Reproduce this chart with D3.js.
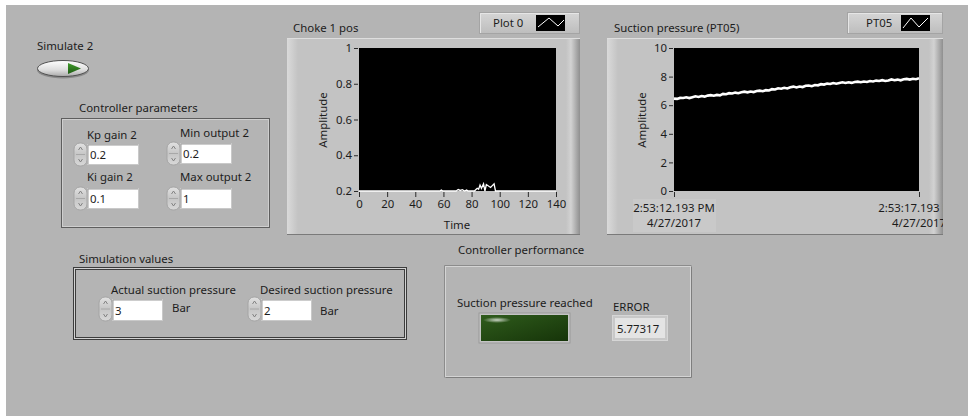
<!DOCTYPE html>
<html><head><meta charset="utf-8">
<script src="https://cdn.jsdelivr.net/npm/d3@7"></script>
<style>
body{margin:0;background:#fff}
svg{display:block}
text{font-family:"Noto Sans",sans-serif;font-size:11.4px;fill:#1c1c1c}
</style>
</head><body>
<svg id="c" width="971" height="417"></svg>
<script>
// ---------------- data ----------------
const chokeTime  = [0, 57.5, 58.5, 59.5, 69, 70.5, 72, 73.5, 75, 76.5, 77.5, 82, 84, 85, 86, 87, 88.5, 89.5, 90.5, 93.5, 96, 97, 140];
const chokeValue = [0.2, 0.2, 0.205, 0.2, 0.2, 0.208, 0.203, 0.207, 0.2, 0.205, 0.2, 0.2, 0.215, 0.21, 0.233, 0.215, 0.24, 0.2, 0.236, 0.22, 0.24, 0.2, 0.2];
const chokeXTicks = [0, 20, 40, 60, 80, 100, 120, 140];
const chokeYTicks = [0.2, 0.4, 0.6, 0.8, 1];

const pressureValue = [
  6.46, 6.44, 6.51, 6.50, 6.55, 6.50, 6.56, 6.62, 6.58, 6.64, 6.60, 6.67, 6.70, 6.66, 6.72, 6.69,
  6.79, 6.77, 6.84, 6.82, 6.88, 6.84, 6.90, 6.95, 6.90, 6.96, 6.92, 6.99, 7.02, 6.98, 7.05, 7.03,
  7.12, 7.10, 7.18, 7.15, 7.22, 7.17, 7.25, 7.30, 7.24, 7.31, 7.27, 7.36, 7.38, 7.33, 7.41, 7.39,
  7.47, 7.44, 7.51, 7.48, 7.55, 7.50, 7.55, 7.60, 7.55, 7.60, 7.56, 7.62, 7.65, 7.61, 7.66, 7.62,
  7.69, 7.66, 7.72, 7.69, 7.75, 7.69, 7.73, 7.80, 7.75, 7.79, 7.74, 7.81, 7.84, 7.79, 7.85, 7.82, 7.88
];
const pressureWindow = [0, 5];          // seconds shown
const pressureYTicks = [0, 2, 4, 6, 8, 10];
const pressureTickLabels = [["2:53:12.193 PM", "4/27/2017"], ["2:53:17.193 PM", "4/27/2017"]];

const controllerLabels = ["Kp gain 2", "Min output 2", "Ki gain 2", "Max output 2"];
const controllerValues = ["0.2", "0.2", "0.1", "1"];
const simulationLabels = ["Actual suction pressure", "Desired suction pressure"];
const simulationValues = ["3", "2"];
const errorValue = "5.77317";

// ---------------- drawing ----------------
const svg = d3.select("#c");
const defs = svg.append("defs");

function lg(id, stops, x2 = 0, y2 = 1) {
  const g = defs.append("linearGradient").attr("id", id)
    .attr("x1", 0).attr("y1", 0).attr("x2", x2).attr("y2", y2);
  stops.forEach(s => g.append("stop").attr("offset", s[0]).attr("stop-color", s[1]));
}
lg("leftBevel", [[0, "#dadada"], [1, "#c3c3c3"]], 1, 0);
lg("rightBevel", [[0, "#c3c3c3"], [0.35, "#d2d2d2"], [1, "#8f8f8f"]], 1, 0);
lg("legendG", [[0, "#d6d6d6"], [1, "#bdbdbd"]]);
lg("spinG", [[0, "#e2e2e2"], [0.5, "#c6c6c6"], [1, "#d8d8d8"]]);
lg("btnG", [[0, "#ffffff"], [0.6, "#dcdcdc"], [1, "#a9a9a9"]]);
lg("triG", [[0, "#3f9a2a"], [1, "#1f5c14"]]);
lg("ledG", [[0, "#2f5c1c"], [1, "#163409"]], 1, 1);
const rg = defs.append("radialGradient").attr("id", "ledHi").attr("cx", 0.5).attr("cy", 0.5).attr("r", 0.5);
rg.append("stop").attr("offset", 0).attr("stop-color", "#ffffff").attr("stop-opacity", 0.75);
rg.append("stop").attr("offset", 1).attr("stop-color", "#ffffff").attr("stop-opacity", 0);

// panel background
svg.append("rect").attr("width", 971).attr("height", 417).attr("fill", "#ffffff");
svg.append("rect").attr("x", 6).attr("y", 5).attr("width", 962).attr("height", 411).attr("fill", "#b4b4b4");

function label(x, y, t, anchor = "start") {
  return svg.append("text").attr("x", x).attr("y", y).attr("text-anchor", anchor).text(t);
}

// -------- Simulate button --------
label(37, 50, "Simulate 2");
svg.append("ellipse").attr("cx", 63).attr("cy", 70).attr("rx", 26).attr("ry", 8.5).attr("fill", "#8a8a8a");
svg.append("ellipse").attr("cx", 63).attr("cy", 68.5).attr("rx", 25.5).attr("ry", 8).attr("fill", "url(#btnG)").attr("stroke", "#505050").attr("stroke-width", 1);
svg.append("path").attr("d", "M68,63 L68,74 L81,68.5 Z").attr("fill", "url(#triG)");

// -------- helpers for controls --------
function spinner(x, y, h) {
  svg.append("rect").attr("x", x).attr("y", y).attr("width", 13).attr("height", h).attr("rx", 6)
    .attr("fill", "url(#spinG)").attr("stroke", "#a5a5a5");
  const cx = x + 6.5;
  svg.append("path").attr("d", `M${cx - 2},${y + 7} L${cx},${y + 4} L${cx + 2},${y + 7}`)
    .attr("fill", "none").attr("stroke", "#7a7a7a").attr("stroke-width", 0.9);
  svg.append("path").attr("d", `M${cx - 2},${y + h - 7} L${cx},${y + h - 4} L${cx + 2},${y + h - 7}`)
    .attr("fill", "none").attr("stroke", "#7a7a7a").attr("stroke-width", 0.9);
  svg.append("line").attr("x1", x + 2).attr("x2", x + 11).attr("y1", y + h / 2).attr("y2", y + h / 2).attr("stroke", "#a8a8a8");
}
function inputBox(x, y, w, h, v) {
  svg.append("rect").attr("x", x - 1).attr("y", y - 1).attr("width", w + 2).attr("height", h + 2).attr("fill", "#c9c9c9");
  svg.append("rect").attr("x", x).attr("y", y).attr("width", w).attr("height", h).attr("fill", "#ffffff");
  svg.append("path").attr("d", `M${x},${y + h} L${x},${y} L${x + w},${y}`).attr("fill", "none").attr("stroke", "#9c9c9c");
  svg.append("text").attr("x", x + 2).attr("y", y + h - 5).text(v);
}

// -------- Controller parameters --------
label(79, 112, "Controller parameters");
svg.append("rect").attr("x", 61.5).attr("y", 118.5).attr("width", 208).attr("height", 109).attr("fill", "none").attr("stroke", "#5e5e5e");
svg.append("rect").attr("x", 62.5).attr("y", 119.5).attr("width", 206).attr("height", 107).attr("fill", "none").attr("stroke", "#cfcfcf");
const cp = [
  {lx: 87, ly: 139, sx: 74, sy: 143, sh: 23, ix: 88, iy: 145, ih: 19},
  {lx: 180, ly: 137, sx: 167, sy: 142, sh: 23, ix: 181, iy: 144, ih: 19},
  {lx: 87, ly: 181, sx: 74, sy: 187, sh: 23, ix: 88, iy: 189, ih: 19},
  {lx: 180, ly: 181, sx: 167, sy: 187, sh: 23, ix: 181, iy: 189, ih: 19}
];
cp.forEach((p, i) => {
  label(p.lx, p.ly, controllerLabels[i]);
  spinner(p.sx, p.sy, p.sh);
  inputBox(p.ix, p.iy, 50, p.ih, controllerValues[i]);
});

// -------- Simulation values --------
label(79, 263, "Simulation values");
svg.append("rect").attr("x", 73.5).attr("y", 267.5).attr("width", 333).attr("height", 72).attr("fill", "none").attr("stroke", "#3c3c3c");
svg.append("rect").attr("x", 74.5).attr("y", 268.5).attr("width", 331).attr("height", 70).attr("fill", "none").attr("stroke", "#d2d2d2");
svg.append("rect").attr("x", 75.5).attr("y", 269.5).attr("width", 329).attr("height", 68).attr("fill", "none").attr("stroke", "#3c3c3c");
const sv = [
  {lx: 111, sx: 99, ix: 113, bx: 172, by: 312},
  {lx: 260, sx: 248, ix: 262, bx: 320, by: 315}
];
sv.forEach((p, i) => {
  label(p.lx, 294, simulationLabels[i]);
  spinner(p.sx, 297, 24);
  inputBox(p.ix, 300, 49, 20, simulationValues[i]);
  label(p.bx, p.by, "Bar");
});

// -------- Controller performance --------
label(458, 254, "Controller performance");
svg.append("rect").attr("x", 445.5).attr("y", 266.5).attr("width", 245).attr("height", 110).attr("fill", "none").attr("stroke", "#d4d4d4");
svg.append("path").attr("d", "M445.5,377.5 L691.5,377.5 L691.5,266.5").attr("fill", "none").attr("stroke", "#7e7e7e");
svg.append("path").attr("d", "M444.5,377.5 L444.5,265.5 L691.5,265.5").attr("fill", "none").attr("stroke", "#8c8c8c");
label(457, 307, "Suction pressure reached");
svg.append("rect").attr("x", 479).attr("y", 313).attr("width", 91).attr("height", 30).attr("fill", "#c4c4c4").attr("stroke", "#9a9a9a");
svg.append("rect").attr("x", 481).attr("y", 315).attr("width", 87).attr("height", 26).attr("fill", "url(#ledG)");
svg.append("ellipse").attr("cx", 497).attr("cy", 320).attr("rx", 14).attr("ry", 3).attr("fill", "url(#ledHi)");
label(613, 311, "ERROR");
svg.append("rect").attr("x", 612.5).attr("y", 315.5).attr("width", 55).attr("height", 25).attr("fill", "#c8c8c8").attr("stroke", "#d6d6d6");
svg.append("rect").attr("x", 615).attr("y", 318).attr("width", 50).attr("height", 20).attr("fill", "#e4e4e4");
label(617, 333, errorValue);

// -------- graph helpers --------
function frame(x, y, w, h) {
  svg.append("rect").attr("x", x).attr("y", y).attr("width", w).attr("height", h).attr("fill", "#c3c3c3");
  svg.append("rect").attr("x", x).attr("y", y).attr("width", 11).attr("height", h).attr("fill", "url(#leftBevel)");
  svg.append("rect").attr("x", x + w - 14).attr("y", y).attr("width", 14).attr("height", h).attr("fill", "url(#rightBevel)");
  svg.append("line").attr("x1", x).attr("x2", x + w).attr("y1", y + 0.5).attr("y2", y + 0.5).attr("stroke", "#dedede");
  svg.append("line").attr("x1", x).attr("x2", x + w).attr("y1", y + h - 0.5).attr("y2", y + h - 0.5).attr("stroke", "#7a7a7a");
}
function legend(x, y, w, name, tx, gx, pts) {
  svg.append("rect").attr("x", x + 0.5).attr("y", y + 0.5).attr("width", w - 1).attr("height", 21).attr("fill", "url(#legendG)").attr("stroke", "#a4a4a4");
  svg.append("path").attr("d", `M${x + 1.5},${y + 21} L${x + 1.5},${y + 1.5} L${x + w - 1},${y + 1.5}`).attr("fill", "none").attr("stroke", "#e6e6e6");
  svg.append("text").attr("x", tx).attr("y", y + 15).text(name);
  svg.append("rect").attr("x", gx).attr("y", y + 3).attr("width", 29).attr("height", 16).attr("fill", "#000");
  svg.append("polyline").attr("points", pts.map(p => [gx + p[0], y + 3 + p[1]].join(",")).join(" "))
    .attr("fill", "none").attr("stroke", "#fff").attr("stroke-width", 1);
}
function styleAxis(g) {
  g.select(".domain").remove();
  g.selectAll(".tick line").attr("stroke", "#2a2a2a");
  g.selectAll(".tick text").attr("fill", "#1c1c1c").style("font-family", "Noto Sans").style("font-size", "11.4px");
}

// -------- Choke 1 pos --------
label(293, 32, "Choke 1 pos");
legend(479, 12, 101, "Plot 0", 493, 536, [[2, 12], [13, 3], [22, 11], [28, 5]]);
frame(287, 38, 293, 197);
const cx = d3.scaleLinear().domain([0, 140]).range([359, 556]);
const cy = d3.scaleLinear().domain([0.2, 1]).range([191, 48]);
svg.append("rect").attr("x", 359).attr("y", 48).attr("width", 197).attr("height", 143).attr("fill", "#000");
svg.append("path").datum(chokeTime.map((t, i) => [t, chokeValue[i]]))
  .attr("d", d3.line().x(d => cx(d[0])).y(d => cy(d[1])))
  .attr("fill", "none").attr("stroke", "#fff").attr("stroke-width", 1.3);
svg.append("g").attr("transform", "translate(358,0)")
  .call(d3.axisLeft(cy).tickValues(chokeYTicks).tickSize(4).tickPadding(2).tickFormat(d3.format("~g")))
  .call(styleAxis);
svg.append("g").attr("transform", "translate(0,192)")
  .call(d3.axisBottom(cx).tickValues(chokeXTicks).tickSize(5).tickPadding(3))
  .call(styleAxis);
svg.append("text").attr("transform", "translate(327,120) rotate(-90)").attr("text-anchor", "middle").text("Amplitude");
label(457, 229, "Time", "middle");

// -------- Suction pressure (PT05) --------
label(614, 32, "Suction pressure (PT05)");
legend(847, 12, 96, "PT05", 866, 901, [[2, 13], [10, 3], [18, 12], [27, 3]]);
frame(607, 38, 336, 197);
const px = d3.scaleLinear().domain(pressureWindow).range([674, 919]);
const py = d3.scaleLinear().domain([0, 10]).range([191, 48]);
const dt = (pressureWindow[1] - pressureWindow[0]) / (pressureValue.length - 1);
svg.append("rect").attr("x", 674).attr("y", 48).attr("width", 245).attr("height", 143).attr("fill", "#000");
svg.append("path").datum(pressureValue)
  .attr("d", d3.line().x((d, i) => px(pressureWindow[0] + i * dt)).y(d => py(d)))
  .attr("fill", "none").attr("stroke", "#fff").attr("stroke-width", 2.6);
svg.append("g").attr("transform", "translate(673,0)")
  .call(d3.axisLeft(py).tickValues(pressureYTicks).tickSize(4).tickPadding(2))
  .call(styleAxis);
svg.append("g").attr("transform", "translate(0,192)")
  .call(d3.axisBottom(px).tickValues(pressureWindow).tickSize(5).tickFormat(""))
  .call(styleAxis);
svg.append("text").attr("transform", "translate(646,120) rotate(-90)").attr("text-anchor", "middle").text("Amplitude");
defs.append("clipPath").attr("id", "pclip").append("rect").attr("x", 600).attr("y", 195).attr("width", 343).attr("height", 40);
svg.append("rect").attr("x", 633).attr("y", 199).attr("width", 83).attr("height", 33).attr("fill", "#c9c9c9");
const tl = svg.append("g").attr("clip-path", "url(#pclip)");
pressureWindow.forEach((t, i) => {
  tl.append("text").attr("x", px(t)).attr("y", 212).attr("text-anchor", "middle").text(pressureTickLabels[i][0]);
  tl.append("text").attr("x", px(t)).attr("y", 227).attr("text-anchor", "middle").text(pressureTickLabels[i][1]);
});
</script>
</body></html>
